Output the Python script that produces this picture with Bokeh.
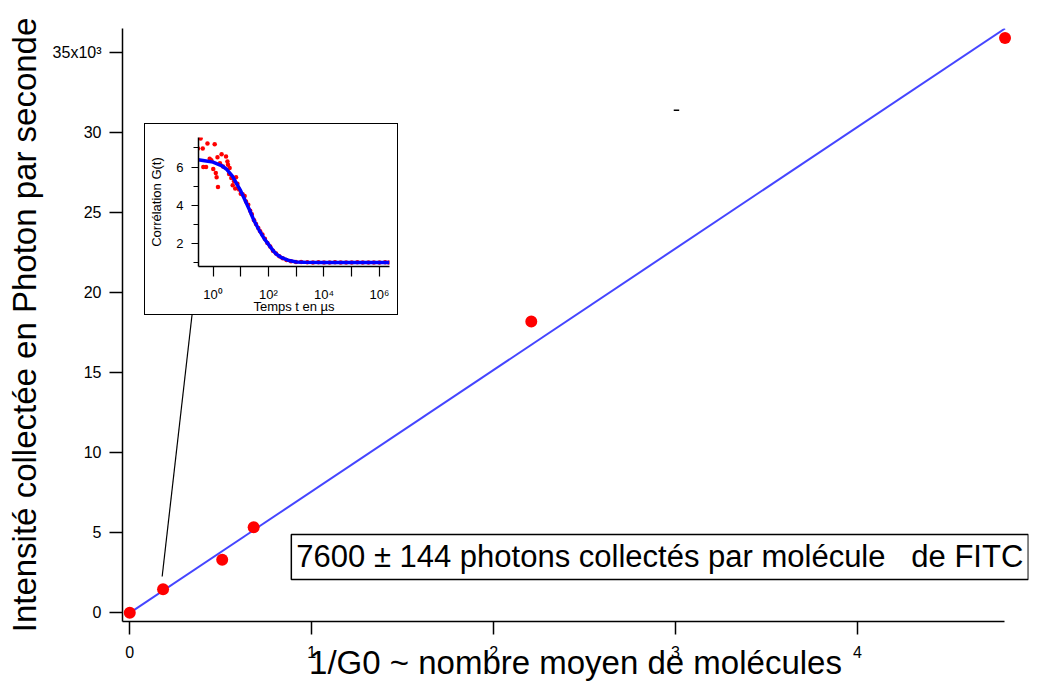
from bokeh.plotting import figure
from bokeh.models import Range1d, FixedTicker, Label
from bokeh.layouts import column
from bokeh.embed import file_html
from bokeh.resources import INLINE

FONT = "Liberation Sans"

# ---------------- main chart data ----------------
inv_g0 = [0.0, 0.183, 0.508, 0.681, 2.207, 4.811]          # 1/G0
intensity = [0.0, 1.48, 3.31, 5.35, 18.2, 35.9]            # x10^3 photons/s
fit_x = [0.0, 4.811]
fit_y = [0.0, 36.5]
x_ticks = [0, 1, 2, 3, 4]
y_ticks = [0, 5, 10, 15, 20, 25, 30, 35]
y_tick_labels = {35: "35x10³"}
box_text = "7600 ± 144 photons collectés par molécule\u00a0\u00a0\u00a0de FITC"
pointer_x = [0.178, 0.343]
pointer_y = [2.27, 18.7]

# ---------------- inset data ----------------
t_data = [0.358, 0.288, 0.427, 0.631, 1.15, 0.447, 0.562, 0.759, 0.871, 1.02,
          1.26, 1.35, 1.51, 1.45, 2.04, 1.78, 2.29, 2.95, 3.31, 3.47,
          3.98, 3.80, 4.57, 5.75, 6.76, 5.13, 7.59, 6.31, 8.71, 10.0,
          11.7, 13.8, 15.5, 18.6, 21.9, 25.1, 30.2, 35.5, 42.7, 50.1,
          60.3, 74.1, 91.2, 115, 145, 186, 245, 324, 447, 646,
          977, 1500, 2500, 4000, 6300, 10000, 16000, 25000, 40000, 63000,
          100000, 160000, 250000, 400000, 630000, 1000000, 1600000, 2200000]
g_data = [7.50, 6.98, 6.98, 7.24, 7.19, 6.00, 6.00, 6.43, 6.36, 5.90,
          5.69, 5.47, 4.95, 6.52, 6.67, 6.20, 6.03, 6.55, 6.29, 6.12,
          5.95, 5.64, 5.43, 5.26, 5.47, 5.05, 5.12, 4.88, 4.83, 4.60,
          4.57, 4.48, 4.19, 4.02, 3.71, 3.53, 3.22, 3.02, 2.81, 2.64,
          2.47, 2.24, 2.02, 1.84, 1.62, 1.47, 1.33, 1.22, 1.13, 1.06,
          1.03, 1.02, 1.01, 1.00, 1.01, 1.00, 1.00, 1.01, 1.00, 1.00,
          1.00, 1.01, 1.00, 1.00, 1.00, 1.00, 1.01, 1.00]
t_fit = [0.29, 0.5, 1, 2, 3, 5, 7, 10, 15, 20, 30, 50, 70, 100, 150, 200,
         300, 500, 1000, 2000, 10000, 100000, 1000000, 2300000]
g_fit = [6.38, 6.33, 6.26, 6.08, 5.90, 5.52, 5.15, 4.75, 4.20, 3.80, 3.20,
         2.60, 2.25, 1.95, 1.60, 1.42, 1.25, 1.12, 1.03, 1.01, 1.00, 1.00,
         1.00, 1.00]
inset_x_ticks = [1, 10, 100, 1000, 10000, 100000, 1000000]
inset_x_labels = {1: "10⁰", 10: "", 100: "10²", 1000: "", 10000: "10⁴",
                  100000: "", 1000000: "10⁶"}
inset_y_ticks = [2, 4, 6]
inset_y_minor = [1, 3, 5, 7]

MAIN_H = 685
X_START, X_END = -0.040, 4.94
X_AXIS_END = 4.81

# ---------------- main figure ----------------
p = figure(width=1032, height=MAIN_H,
           x_range=Range1d(X_START, X_END), y_range=Range1d(-0.54, 36.5),
           output_backend="svg", toolbar_location=None,
           min_border_left=122, min_border_right=4,
           min_border_top=28, min_border_bottom=MAIN_H - 621)
p.frame_align = False
p.grid.visible = False
p.outline_line_color = None
p.background_fill_color = "white"

for ax in (p.xaxis[0], p.yaxis[0]):
    ax.axis_line_color = "black"
    ax.axis_line_width = 1.5
    ax.major_tick_line_color = "black"
    ax.major_tick_line_width = 1.5
    ax.major_tick_in = 0
    ax.major_tick_out = 13
    ax.minor_tick_line_color = None
    ax.major_label_text_font = FONT
    ax.major_label_text_font_size = "16px"
    ax.major_label_text_color = "black"
    ax.axis_label_text_font = FONT
    ax.axis_label_text_font_style = "normal"
    ax.axis_label_text_color = "black"

p.xaxis.bounds = (X_START, X_AXIS_END)
p.xaxis.ticker = FixedTicker(ticks=x_ticks)
p.yaxis.ticker = FixedTicker(ticks=y_ticks)
p.yaxis.major_label_overrides = y_tick_labels
p.xaxis.major_label_standoff = 11
p.yaxis.major_label_standoff = 8
p.xaxis.axis_label = "1/G0 ~ nombre moyen de molécules"
p.yaxis.axis_label = "Intensité collectée en Photon par seconde"
p.xaxis.axis_label_text_font_size = "33px"
p.yaxis.axis_label_text_font_size = "33px"
p.xaxis.axis_label_standoff = -17
p.yaxis.axis_label_standoff = 7

p.line(fit_x, fit_y, line_color="#4545FF", line_width=2)
p.scatter(inv_g0, intensity, size=12, fill_color="#FF0000", line_color=None)
p.line(pointer_x, pointer_y, line_color="black", line_width=1.2)
p.segment(x0=[2.99], y0=[31.4], x1=[3.02], y1=[31.4], line_color="black", line_width=1.5)

p.add_layout(Label(x=0.888, y=3.49, text=box_text,
                   text_font=FONT, text_font_size="31px", text_color="black",
                   text_align="left", text_baseline="middle",
                   border_line_color="black", border_line_width=1.5,
                   background_fill_color="white", padding=5))

# ---------------- inset figure ----------------
ins = figure(width=254, height=192, x_axis_type="log",
             x_range=Range1d(0.3, 2.3e6), y_range=Range1d(0.79, 7.55),
             output_backend="svg", toolbar_location=None,
             min_border_left=53, min_border_right=10,
             min_border_top=13, min_border_bottom=48,
             styles={"border": "1px solid black", "background": "white"})
ins.frame_align = False
ins.margin = (123 - MAIN_H, 0, 0, 144)
ins.grid.visible = False
ins.outline_line_color = None
for ax in (ins.xaxis[0], ins.yaxis[0]):
    ax.axis_line_color = "black"
    ax.axis_line_width = 1.5
    ax.major_tick_line_color = "black"
    ax.major_tick_line_width = 1.2
    ax.minor_tick_line_color = "black"
    ax.minor_tick_line_width = 1.2
    ax.major_tick_in = 0
    ax.minor_tick_in = 0
    ax.major_label_text_font = FONT
    ax.major_label_text_font_size = "13px"
    ax.major_label_text_color = "black"
    ax.axis_label_text_font = FONT
    ax.axis_label_text_font_size = "13px"
    ax.axis_label_text_font_style = "normal"
    ax.axis_label_text_color = "black"

ins.xaxis.ticker = FixedTicker(ticks=inset_x_ticks, minor_ticks=[])
ins.xaxis.major_label_overrides = inset_x_labels
ins.xaxis.major_tick_out = 10
ins.xaxis.minor_tick_out = 0
ins.xaxis.major_label_standoff = 10
ins.xaxis.axis_label = "Temps t en µs"
ins.xaxis.axis_label_standoff = -6

ins.yaxis.ticker = FixedTicker(ticks=inset_y_ticks, minor_ticks=inset_y_minor)
ins.yaxis.major_tick_out = 7
ins.yaxis.minor_tick_out = 5
ins.yaxis.major_label_standoff = 8
ins.yaxis.axis_label = "Corrélation G(t)"
ins.yaxis.axis_label_standoff = 9

ins.scatter(t_data, g_data, size=4.5, fill_color="#FF0000", line_color=None)
ins.line(t_fit, g_fit, line_color="#0000FF", line_width=3.5)

layout = column(p, ins)
open("out.html", "w").write(file_html(layout, INLINE))
